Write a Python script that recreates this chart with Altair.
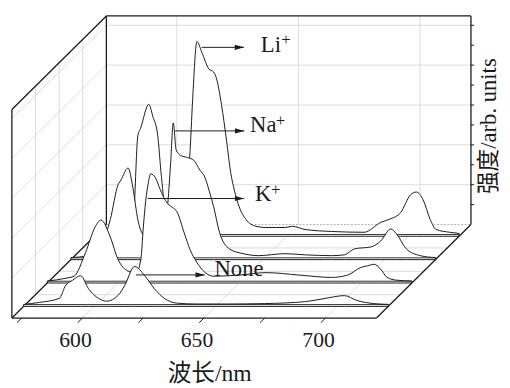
import altair as alt
import pandas as pd

# ---------------- data ----------------
series_names = ["Li+", "Na+", "K+", "None"]          # back -> front
series_depth = [0.875, 0.625, 0.375, 0.125]           # depth position (0 front, 1 back)

li_w = [571, 580, 585, 587, 588.8, 590, 593.3, 595, 596.9, 598.5, 600.1, 602, 603.4, 605, 607.5,
        609.2, 610.3, 611.5, 613.1, 615.1, 618, 620, 621.2, 623.2, 625.3, 627, 628.5, 630.5, 633.3,
        637.4, 641.4, 649.5, 652.4, 657.6, 668.6, 681.9, 688.8, 692.9, 696.9, 701, 703.4, 706.2,
        709.1, 711.5, 717.2, 721]
li_i = [0.05, 0.1, 0.2, 0.5, 2.52, 2.72, 3.31, 3.0, 2.57, 1.5, 0.74, 0.72, 0.79, 0.67, 0.6,
        1.2, 2.15, 3.6, 4.89, 4.62, 4.2, 4.12, 3.95, 3.31, 2.4, 1.6, 1.16, 0.74, 0.42,
        0.25, 0.22, 0.22, 0.25, 0.17, 0.12, 0.1, 0.35, 0.44, 0.59, 1.04, 1.11, 0.91,
        0.42, 0.17, 0.1, 0.07]

na_w = [571, 578, 583, 587.2, 590.4, 591.6, 594.5, 596.5, 598.5, 601, 604, 607, 609, 610.7, 612,
        613.1, 614.3, 616, 619, 621.6, 624, 626.1, 628, 629.7, 632.1, 636.2, 641.8, 648.3, 659,
        667.4, 678.3, 683.5, 687.6, 694.5, 698.5, 702.6, 705, 709, 714.7, 721]
na_i = [0.05, 0.1, 0.3, 1.01, 1.88, 2.0, 2.3, 1.8, 1.01, 0.6, 0.5, 0.6, 0.9, 1.33, 2.4,
        3.43, 2.75, 2.62, 2.56, 2.49, 2.25, 2.07, 1.7, 1.33, 0.69, 0.27, 0.15, 0.1, 0.15,
        0.12, 0.1, 0.12, 0.27, 0.32, 0.47, 0.77, 0.64, 0.27, 0.1, 0.05]

k_w = [571, 578.7, 582, 586.7, 590.7, 593.1, 596.8, 600.1, 604.2, 607.5, 609.5, 610.5, 611.5,
       612.5, 613.5, 615.5, 617.4, 619.6, 621.2, 622.4, 624.4, 627.3, 629.7, 632.5, 635.8,
       639.4, 650, 661, 674.4, 687.9, 694.6, 700, 702.7, 705.4, 708.1, 710.8, 714.8, 721]
k_i = [0.05, 0.12, 0.17, 0.76, 1.41, 1.58, 1.17, 0.59, 0.3, 0.25, 0.6, 1.4, 2.07,
       2.5, 2.74, 2.64, 2.35, 2.07, 1.95, 1.9, 1.78, 1.26, 0.84, 0.52, 0.27,
       0.17, 0.2, 0.26, 0.2, 0.14, 0.2, 0.39, 0.43, 0.47, 0.35, 0.14, 0.07, 0.05]

none_w = [571, 577.5, 585.6, 588.3, 591, 594.4, 597.7, 601.8, 605.1, 609.9, 612.6, 616.6, 620.8,
          624.8, 628.9, 634.2, 642, 655, 670, 687, 695, 703, 708, 715, 721]
none_i = [0.05, 0.1, 0.2, 0.53, 0.65, 0.77, 0.44, 0.2, 0.13, 0.28, 0.53, 1.0, 0.77,
          0.44, 0.2, 0.08, 0.06, 0.06, 0.07, 0.12, 0.2, 0.27, 0.15, 0.07, 0.05]

series_w = [li_w, na_w, k_w, none_w]
series_i = [li_i, na_i, k_i, none_i]

# annotation (in each series' plane): arrow start/end wavelength, arrow intensity, label pos
label_main = ["Li", "Na", "K", "None"]
label_sup = ["+", "+", "+", ""]
arrow_w0 = [615.1, 613.9, 612.3, 617.2]
arrow_w1 = [632.5, 642.3, 652.0, 645.5]
arrow_i = [4.74, 3.23, 2.12, 0.79]
label_w = [639.4, 644.7, 656.4, 649.5]
label_i = [4.62, 3.19, 2.05, 0.77]
sup_w = [649.8, 657.2, 665.0, 0]
sup_i = [4.91, 3.48, 2.32, 0]

# axes
W0, W1 = 571.0, 721.0       # wavelength range
IMAX = 5.235                # intensity range top
major_ticks = [600, 650, 700]
minor_ticks = [575, 600, 625, 650, 675, 700]
int_grid = [1, 2, 3, 4, 5]
int_ticks = [0.5, 1, 1.5, 2, 2.5, 3, 3.5, 4, 4.5, 5]
depth_grid = [0.25, 0.5, 0.75]

# oblique projection of the depth axis
KX = 38.87   # wavelength shift per unit depth
KY = 2.346   # intensity shift per unit depth

W, H = 502, 380
PX_NM, PX_I = 2.47, 40.5
XA = 569.4
YT = 7.704
xs = alt.Scale(domain=[XA, XA + W / PX_NM], nice=False, zero=False)
ys = alt.Scale(domain=[YT - H / PX_I, YT], nice=False, zero=False)

FONT = "Liberation Serif, Noto Sans CJK SC, serif"
INK = "#1a1a1a"


def P(w, d, i):
    return w + d * KX, i + d * KY


def seg_df(segs):
    rows = []
    for a, b in segs:
        x1, y1 = P(*a)
        x2, y2 = P(*b)
        rows.append({"x": x1, "y": y1, "x2": x2, "y2": y2})
    return pd.DataFrame(rows)


def rules(segs, **kw):
    return alt.Chart(seg_df(segs)).mark_rule(**kw).encode(
        x=alt.X("x:Q", scale=xs, axis=None),
        y=alt.Y("y:Q", scale=ys, axis=None),
        x2="x2:Q", y2="y2:Q")


# grid lines
grid = []
for w in major_ticks:
    grid.append(((w, 1, 0), (w, 1, IMAX)))
    grid.append(((w, 0, 0), (w, 1, 0)))
for i in int_grid:
    grid.append(((W0, 1, i), (W1, 1, i)))
    grid.append(((W0, 0, i), (W0, 1, i)))
for d in depth_grid:
    grid.append(((W0, d, 0), (W0, d, IMAX)))
    grid.append(((W0, d, 0), (W1, d, 0)))

back_edges = [((W0, 1, IMAX), (W1, 1, IMAX)), ((W0, 1, 0), (W0, 1, IMAX)),
              ((W1, 1, 0), (W1, 1, IMAX)), ((W0, 0, IMAX), (W0, 1, IMAX)),
              ((W0, 0, 0), (W0, 0, IMAX)), ((W0, 0, 0), (W0, 1, 0))]
back_bottom = [((W0, 1, 0), (W1, 1, 0))]
front_edges = [((W0, 0, 0), (W1, 0, 0)), ((W1, 0, 0), (W1, 1, 0))]
ticks = [((w, 0, 0), (w, -0.05, 0)) for w in minor_ticks] + \
        [((W1, 1, i), (W1 + 1.3, 1, i)) for i in int_ticks]

layers = [
    rules(grid, color="#d2d2d2", strokeWidth=0.8),
    rules(back_bottom, color="#9a9a9a", strokeWidth=0.8, strokeDash=[2, 1.5]),
    rules(back_edges, color=INK, strokeWidth=1.3),
]

# series, back to front
for name, d, ws, vals in zip(series_names, series_depth, series_w, series_i):
    rows = []
    for w, v in zip(ws, vals):
        xp, yp = P(w, d, v)
        rows.append({"xp": xp, "yp": yp, "base": d * KY})
    df = pd.DataFrame(rows)
    layers.append(alt.Chart(df).mark_area(
        fill="white", stroke=INK, strokeWidth=1.0, interpolate="monotone").encode(
        x=alt.X("xp:Q", scale=xs, axis=None),
        y=alt.Y("yp:Q", scale=ys, axis=None),
        y2="base:Q"))
    layers.append(rules([((W0, d, 0.045), (W1, d, 0.045))], color=INK, strokeWidth=0.9))

layers.append(rules(front_edges, color=INK, strokeWidth=1.3))
layers.append(rules(ticks, color=INK, strokeWidth=1.0))

# tick labels
tl = pd.DataFrame({"x": major_ticks, "y": [0] * len(major_ticks),
                   "t": [str(v) for v in major_ticks]})
layers.append(alt.Chart(tl).mark_text(font=FONT, fontSize=22, color=INK, dx=-7, dy=22,
                                      baseline="middle").encode(
    x=alt.X("x:Q", scale=xs, axis=None), y=alt.Y("y:Q", scale=ys, axis=None), text="t:N"))

# arrows
arr_segs, heads, labs, sups = [], [], [], []
for d, a0, a1, ai, lw, li, m, s, sw, si in zip(series_depth, arrow_w0, arrow_w1, arrow_i,
                                                 label_w, label_i, label_main, label_sup,
                                                 sup_w, sup_i):
    arr_segs.append(((a0, d, ai), (a1, d, ai)))
    hx, hy = P(a1, d, ai)
    heads.append({"x": hx, "y": hy})
    lx, ly = P(lw, d, li)
    labs.append({"x": lx, "y": ly, "t": m})
    if s:
        sx, sy = P(sw, d, si)
        sups.append({"x": sx, "y": sy, "t": s})

layers.append(rules(arr_segs, color=INK, strokeWidth=1.0))
layers.append(alt.Chart(pd.DataFrame(heads)).mark_point(
    shape="M1,0 L-1,-0.55 L-1,0.55 Z", size=90, filled=True, color=INK, opacity=1,
    xOffset=-4.7).encode(
    x=alt.X("x:Q", scale=xs, axis=None), y=alt.Y("y:Q", scale=ys, axis=None)))
layers.append(alt.Chart(pd.DataFrame(labs)).mark_text(
    font=FONT, fontSize=23, color=INK, align="left", baseline="alphabetic").encode(
    x=alt.X("x:Q", scale=xs, axis=None), y=alt.Y("y:Q", scale=ys, axis=None), text="t:N"))
layers.append(alt.Chart(pd.DataFrame(sups)).mark_text(
    font=FONT, fontSize=17, color=INK, align="center", baseline="middle").encode(
    x=alt.X("x:Q", scale=xs, axis=None), y=alt.Y("y:Q", scale=ys, axis=None), text="t:N"))

# axis titles
layers.append(alt.Chart(pd.DataFrame({"t": ["波长/nm"]})).mark_text(
    font=FONT, fontSize=24, color=INK, baseline="middle").encode(
    x=alt.value(205), y=alt.value(369), text="t:N"))
layers.append(alt.Chart(pd.DataFrame({"t": ["强度/arb. units"]})).mark_text(
    font=FONT, fontSize=23, color=INK, angle=270, baseline="middle").encode(
    x=alt.value(489), y=alt.value(117), text="t:N"))

chart = alt.layer(*layers).properties(
    width=W, height=H, padding=0,
    autosize=alt.AutoSizeParams(type="none")
).configure_view(stroke=None)

chart.save("out.html", embed_options={"renderer": "svg", "actions": False})
